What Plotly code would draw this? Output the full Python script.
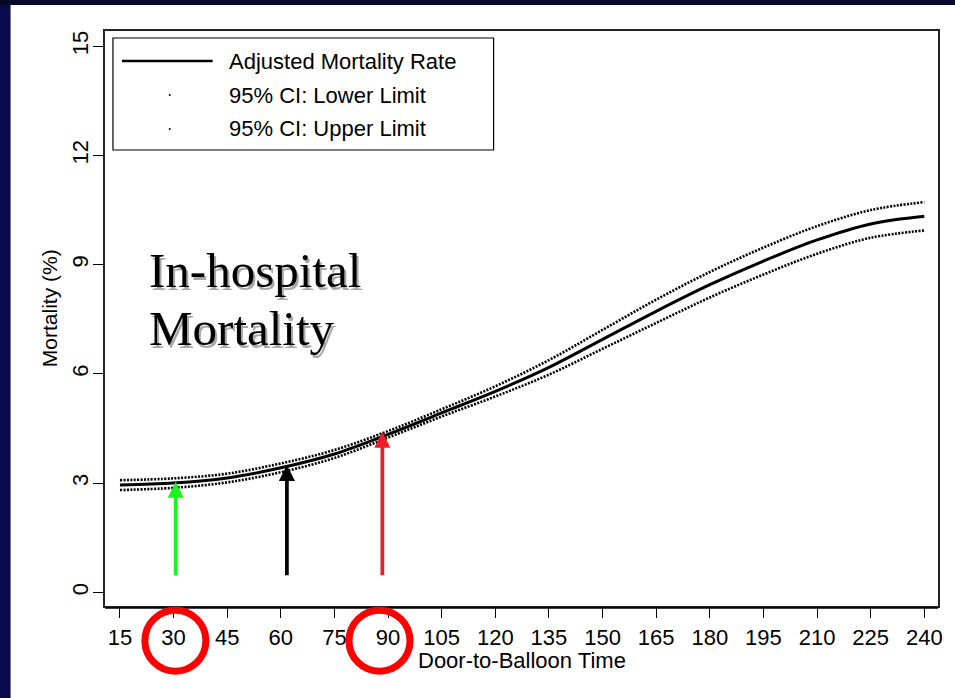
import plotly.graph_objects as go

# ---------------- data ----------------
door_to_balloon = [15, 30, 45, 60, 75, 90, 105, 120, 135, 150, 165, 180, 195, 210, 225, 240]
adjusted_rate = [2.95, 3.00, 3.14, 3.42, 3.80, 4.34, 4.93, 5.52, 6.18, 6.95, 7.72, 8.45, 9.10, 9.68, 10.12, 10.33]
ci_lower = [2.81, 2.87, 3.02, 3.30, 3.69, 4.25, 4.83, 5.38, 5.98, 6.69, 7.40, 8.10, 8.73, 9.30, 9.74, 9.94]
ci_upper = [3.08, 3.13, 3.26, 3.54, 3.91, 4.43, 5.03, 5.66, 6.38, 7.21, 8.04, 8.80, 9.47, 10.06, 10.50, 10.72]
series_names = ["Adjusted Mortality Rate", "95% CI: Lower Limit", "95% CI: Upper Limit"]

x_ticks = [15, 30, 45, 60, 75, 90, 105, 120, 135, 150, 165, 180, 195, 210, 225, 240]
y_ticks = [0, 3, 6, 9, 12, 15]

arrow_minutes = [30.6, 61.7, 88.4]
arrow_tips = [3.04, 3.50, 4.41]
arrow_start = 0.43
arrow_colors = ["#1cf51c", "#000000", "#ee1c25"]

circled_minutes = [30.5, 87.6]
circle_level = -1.33

overlay_lines = ["In-hospital", "Mortality"]

# ---------------- geometry ----------------
W, H = 955, 698
L, R, T, B = 105, 941, 31, 606


def px_x(p):
    return (p - L) / (R - L)


def px_y(p):
    return (B - p) / (B - T)


# axis ranges from pixel anchors (15 min at x=120px, 3.588 px/min; 0% at y=592.3px, 36.4 px/unit)
x_range = [15 - (120 - L) / 3.588, 15 + (R - 120) / 3.588]
y_range = [-(B - 592.3) / 36.4, (592.3 - T) / 36.4]


def y_to_paper(v):
    return (v - y_range[0]) / (y_range[1] - y_range[0])


SANS = "Liberation Sans, Arial, sans-serif"
SERIF = "Liberation Serif, Times New Roman, serif"

fig = go.Figure()

dot_line = dict(color="black", width=2.6, dash="2px,1.4px")
fig.add_trace(go.Scatter(x=door_to_balloon, y=ci_upper, mode="lines", line_shape="spline",
                         line=dot_line, name=series_names[2], showlegend=False, hoverinfo="skip"))
fig.add_trace(go.Scatter(x=door_to_balloon, y=ci_lower, mode="lines", line_shape="spline",
                         line=dot_line, name=series_names[1], showlegend=False, hoverinfo="skip"))
fig.add_trace(go.Scatter(x=door_to_balloon, y=adjusted_rate, mode="lines", line_shape="spline",
                         line=dict(color="black", width=3), name=series_names[0],
                         showlegend=False, hoverinfo="skip"))

shapes = []
annotations = []

# white slide panel over dark background
shapes.append(dict(type="rect", xref="paper", yref="paper", layer="below",
                   x0=px_x(10), x1=px_x(W + 5), y0=px_y(H + 5), y1=px_y(5),
                   fillcolor="white", line=dict(width=0)))
# left navy strip
shapes.append(dict(type="rect", xref="paper", yref="paper", layer="below",
                   x0=px_x(-5), x1=px_x(10), y0=px_y(H + 5), y1=px_y(5),
                   fillcolor="#0a0a4c", line=dict(width=0)))

# second bottom axis line (double line look)
shapes.append(dict(type="line", xref="paper", yref="paper",
                   x0=px_x(L), x1=px_x(R), y0=px_y(608), y1=px_y(608),
                   line=dict(color="black", width=1.3)))

# red circles around the 30 and 90 tick labels
for cm in circled_minutes:
    shapes.append(dict(type="circle", xref="x", yref="paper",
                       xsizemode="pixel", ysizemode="pixel",
                       xanchor=cm, yanchor=y_to_paper(circle_level),
                       x0=-30.5, x1=30.5, y0=-30.5, y1=30.5,
                       line=dict(color="#ff0000", width=7), layer="above"))

# custom legend
shapes.append(dict(type="rect", xref="paper", yref="paper",
                   x0=px_x(113), x1=px_x(495), y0=px_y(150), y1=px_y(38),
                   fillcolor="white", line=dict(color="black", width=1.2)))
row_y = [61, 95, 129]
shapes.append(dict(type="line", xref="paper", yref="paper",
                   x0=px_x(122), x1=px_x(213), y0=px_y(row_y[0]), y1=px_y(row_y[0]),
                   line=dict(color="black", width=2.5)))
for ry in row_y[1:]:
    shapes.append(dict(type="circle", xref="paper", yref="paper",
                       x0=px_x(169), x1=px_x(171), y0=px_y(ry + 1), y1=px_y(ry - 1),
                       fillcolor="black", line=dict(width=0)))
for name, ry in zip(series_names, row_y):
    annotations.append(dict(text=name, xref="paper", yref="paper", x=px_x(227), y=px_y(ry),
                            xanchor="left", yanchor="middle", showarrow=False,
                            font=dict(family=SANS, size=22, color="black")))

# arrows
for xm, tip, col in zip(arrow_minutes, arrow_tips, arrow_colors):
    annotations.append(dict(x=xm, y=tip, ax=xm, ay=arrow_start, xref="x", yref="y",
                            axref="x", ayref="y", text="", showarrow=True,
                            arrowhead=2, arrowsize=0.87, arrowwidth=3.7, arrowcolor=col,
                            standoff=0, startstandoff=0))

# overlay text with shadow
for line_txt, cy in zip(overlay_lines, [270.5, 328.8]):
    for dx, dy, col in [(2.5, -2.5, "#a8a8a8"), (0, 0, "black")]:
        annotations.append(dict(text=line_txt, xref="paper", yref="paper", x=px_x(147), y=px_y(cy),
                                xanchor="left", yanchor="middle", showarrow=False,
                                xshift=dx, yshift=dy,
                                font=dict(family=SERIF, size=49, color=col)))

# axis titles
annotations.append(dict(text="Door-to-Balloon Time", xref="paper", yref="paper",
                        x=px_x(523), y=px_y(660), xanchor="center", yanchor="middle",
                        showarrow=False, font=dict(family=SANS, size=22, color="black")))
annotations.append(dict(text="Mortality (%)", xref="paper", yref="paper",
                        x=px_x(50), y=px_y(308), xanchor="center", yanchor="middle",
                        textangle=-90, showarrow=False,
                        font=dict(family=SANS, size=21, color="black")))

fig.update_layout(
    width=W, height=H,
    margin=dict(l=L, r=W - R, t=T, b=H - B, pad=0),
    paper_bgcolor="#07072a",
    plot_bgcolor="white",
    showlegend=False,
    shapes=shapes,
    annotations=annotations,
    xaxis=dict(range=x_range, tickmode="array", tickvals=x_ticks, ticktext=[str(v) for v in x_ticks],
               ticks="outside", ticklen=10, tickwidth=1.3, tickcolor="black",
               showline=True, mirror=True, linecolor="#222", linewidth=1.6,
               showgrid=False, zeroline=False, ticklabelstandoff=1,
               tickfont=dict(family=SANS, size=22, color="black")),
    yaxis=dict(range=y_range, tickmode="array", tickvals=y_ticks, ticktext=[str(v) for v in y_ticks],
               ticks="outside", ticklen=10, tickwidth=1.3, tickcolor="black", tickangle=-90,
               showline=True, mirror=True, linecolor="#222", linewidth=1.6,
               showgrid=False, zeroline=False, ticklabelstandoff=-4,
               tickfont=dict(family=SANS, size=22, color="black")),
)

fig.write_html("out.html")
